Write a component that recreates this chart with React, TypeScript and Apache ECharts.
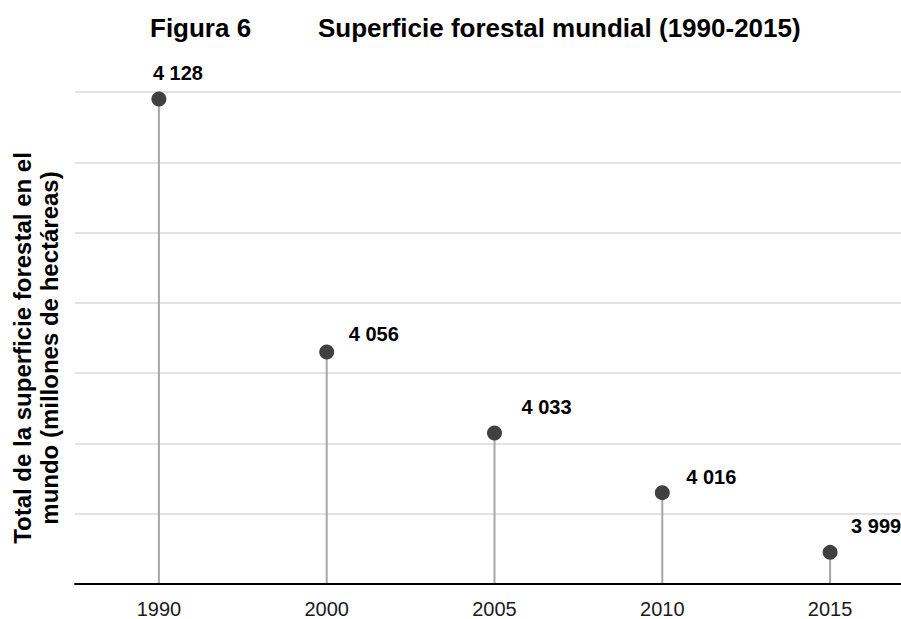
import React, { useEffect, useRef } from "react";
import * as echarts from "echarts";

const categories = ["1990", "2000", "2005", "2010", "2015"];
const values = [4128, 4056, 4033, 4016, 3999];
const valueLabels = ["4 128", "4 056", "4 033", "4 016", "3 999"];
const yMin = 3990;
const yMax = 4130;
const gridSteps = [0, 140, 20]; // helper axis for gridlines: min, max, interval

const labelOffsets: [number, number][] = [
  [-6, -26],
  [22, -18],
  [27, -26],
  [24, -16],
  [21, -26],
];

const FONT = "'Liberation Sans', Arial, sans-serif";

export default function App() {
  const ref = useRef<HTMLDivElement>(null);
  useEffect(() => {
    if (!ref.current) return;
    const chart = echarts.init(ref.current, null, { renderer: "svg" });
    chart.setOption({
      animation: false,
      backgroundColor: "#ffffff",
      textStyle: { fontFamily: FONT },
      grid: { left: 75, right: 0, top: 92, bottom: 33.5, containLabel: false },
      xAxis: {
        type: "category",
        data: categories,
        boundaryGap: true,
        axisLine: { show: true, lineStyle: { color: "#000000", width: 2 } },
        axisTick: { show: false },
        axisLabel: { fontSize: 20, color: "#1a1a1a", margin: 15, fontFamily: FONT },
        splitLine: { show: false },
        z: 10,
      },
      yAxis: [
        {
          type: "value",
          min: yMin,
          max: yMax,
          axisLine: { show: false },
          axisTick: { show: false },
          axisLabel: { show: false },
          splitLine: { show: false },
        },
        {
          type: "value",
          position: "left",
          min: gridSteps[0],
          max: gridSteps[1],
          interval: gridSteps[2],
          axisLine: { show: false },
          axisTick: { show: false },
          axisLabel: { show: false },
          splitLine: { show: true, lineStyle: { color: "#d9d9d9", width: 1.5 } },
        },
      ],
      graphic: [
        {
          type: "text",
          left: 150,
          top: 15,
          style: { text: "Figura 6", font: `bold 26px ${FONT}`, fill: "#000000" },
        },
        {
          type: "text",
          left: 318,
          top: 15,
          style: {
            text: "Superficie forestal mundial (1990-2015)",
            font: `bold 26px ${FONT}`,
            fill: "#000000",
          },
        },
        {
          type: "text",
          x: 35.5,
          y: 348,
          rotation: Math.PI / 2,
          style: {
            text: "Total de la superficie forestal en el\nmundo (millones de hectáreas)",
            font: `bold 24px ${FONT}`,
            fill: "#000000",
            align: "center",
            verticalAlign: "middle",
            lineHeight: 27,
          },
        },
      ],
      series: [
        {
          type: "bar",
          yAxisIndex: 0,
          data: values,
          barWidth: 2,
          itemStyle: { color: "#a6a6a6" },
          silent: true,
          z: 2,
        },
        {
          type: "scatter",
          yAxisIndex: 0,
          symbol: "circle",
          symbolSize: 15,
          itemStyle: { color: "#404040", opacity: 1 },
          z: 5,
          data: values.map((v, i) => ({
            value: [categories[i], v],
            label: {
              show: true,
              position: "inside",
              offset: labelOffsets[i],
              align: "left",
              verticalAlign: "middle",
              formatter: valueLabels[i],
              fontSize: 20,
              fontWeight: "bold",
              color: "#000000",
              fontFamily: FONT,
            },
          })),
        },
      ],
    });
    return () => chart.dispose();
  }, []);
  return (
    <div
      style={{
        position: "fixed",
        left: 0,
        top: 0,
        width: 901,
        height: 619,
        overflow: "hidden",
        background: "#ffffff",
      }}
    >
      <div ref={ref} style={{ width: 913.5, height: 619 }} />
    </div>
  );
}
